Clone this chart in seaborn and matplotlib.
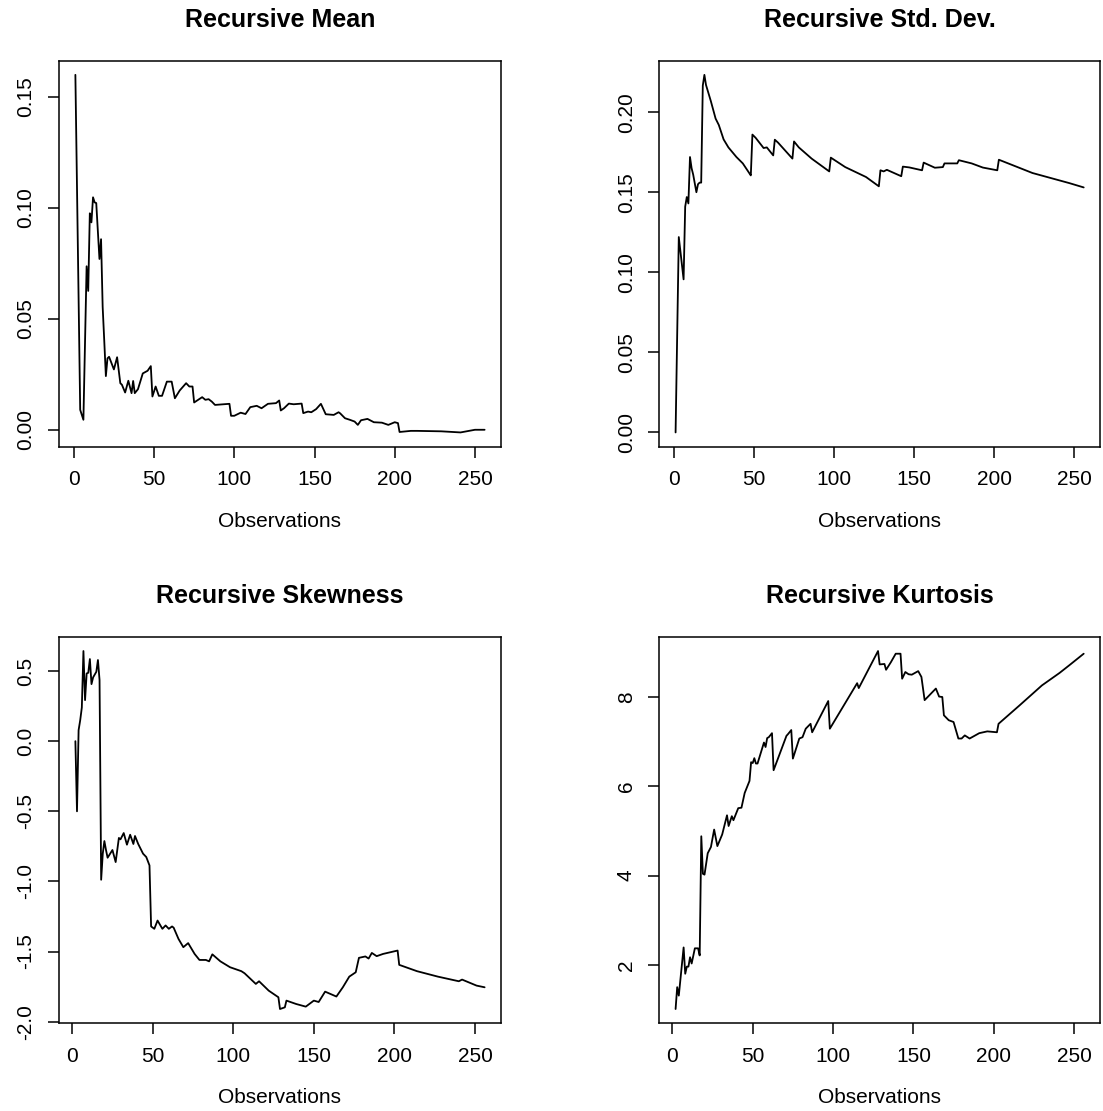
import matplotlib
matplotlib.use("Agg")
import matplotlib.pyplot as plt
import seaborn as sns
import pandas as pd
from matplotlib.ticker import FormatStrFormatter

sns.set_style("ticks")
plt.rcParams['font.family'] = ['Liberation Sans', 'DejaVu Sans']
plt.rcParams['axes.unicode_minus'] = False

# ---------------- data ----------------
mean_obs = [1, 4, 6, 8, 9, 10, 11, 12, 13, 14, 16, 17, 18, 19, 20, 21, 22, 25, 27, 29,
            30, 32, 34, 36, 37, 38, 40, 43, 46, 48, 49, 51, 53, 55, 58, 61, 63, 66, 70,
            72, 74, 75, 80, 82, 84, 86, 88, 97, 98, 100, 104, 107, 110, 114, 117, 121,
            126, 128, 129, 131, 134, 137, 142, 143, 146, 148, 151, 154, 157, 162, 165,
            166, 169, 172, 175, 177, 179, 183, 187, 192, 196, 200, 202, 203, 210, 214,
            229, 241, 250, 256]
mean_val = [0.160, 0.009, 0.0045, 0.0737, 0.0626, 0.0976, 0.0935, 0.1048, 0.1025, 0.1022,
            0.077, 0.0859, 0.0554, 0.040, 0.0242, 0.0322, 0.0329, 0.0272, 0.0327, 0.021,
            0.0203, 0.0168, 0.0221, 0.0165, 0.022, 0.0165, 0.0183, 0.0254, 0.0266, 0.0287,
            0.015, 0.0195, 0.0153, 0.0153, 0.0217, 0.0217, 0.0142, 0.0177, 0.021, 0.0195,
            0.0195, 0.0123, 0.0147, 0.0135, 0.0138, 0.0127, 0.0112, 0.0117, 0.0063, 0.0063,
            0.0077, 0.0071, 0.0102, 0.0108, 0.0097, 0.0117, 0.0120, 0.0132, 0.0087, 0.0097,
            0.0118, 0.0115, 0.0118, 0.0075, 0.0082, 0.0079, 0.0093, 0.0117, 0.0070, 0.0067,
            0.0079, 0.0074, 0.0052, 0.0045, 0.0037, 0.0022, 0.0043, 0.0049, 0.0034, 0.0032,
            0.0022, 0.0034, 0.0030, -0.0010, -0.0005, -0.0005, -0.0007, -0.0012, 0.0, 0.0]

std_obs = [1, 3, 6, 7, 8, 9, 10, 11, 12, 14, 15, 16, 17, 18, 19, 20, 23, 26, 28, 31, 34,
           39, 43, 47, 48, 49, 51, 56, 58, 62, 63, 65, 74, 75, 78, 86, 97, 98, 107, 120,
           128, 129, 131, 133, 142, 143, 147, 155, 156, 163, 168, 169, 174, 177, 178, 186,
           193, 202, 203, 224, 247, 256]
std_val = [0.0, 0.122, 0.0956, 0.141, 0.147, 0.143, 0.172, 0.165, 0.161, 0.150, 0.155,
           0.156, 0.156, 0.2166, 0.2233, 0.217, 0.207, 0.196, 0.192, 0.183, 0.178, 0.172,
           0.168, 0.162, 0.1605, 0.186, 0.184, 0.1776, 0.178, 0.173, 0.1828, 0.181, 0.171,
           0.1817, 0.178, 0.171, 0.163, 0.1716, 0.1657, 0.1595, 0.1537, 0.1637, 0.163,
           0.164, 0.160, 0.166, 0.1655, 0.1637, 0.1685, 0.1653, 0.1657, 0.168, 0.168,
           0.168, 0.170, 0.168, 0.1654, 0.1637, 0.1703, 0.162, 0.1557, 0.153]

skew_obs = [2, 3, 4, 5, 6, 7, 8, 9, 10, 11, 12, 13, 15, 16, 17, 18, 19, 20, 21, 22, 25, 27,
            29, 30, 32, 34, 36, 38, 39, 41, 44, 46, 48, 49, 51, 53, 56, 58, 60, 62, 63, 66,
            69, 72, 76, 79, 83, 85, 87, 92, 98, 105, 107, 114, 116, 122, 128, 129, 132,
            133, 139, 145, 150, 153, 157, 164, 168, 172, 176, 178, 182, 184, 186, 189,
            193, 202, 203, 214, 227, 240, 242, 251, 256]
skew_val = [0.0, -0.5, 0.079, 0.15, 0.24, 0.643, 0.293, 0.483, 0.488, 0.586, 0.407, 0.455,
            0.495, 0.579, 0.436, -0.988, -0.802, -0.712, -0.776, -0.831, -0.776, -0.862,
            -0.69, -0.70, -0.655, -0.738, -0.667, -0.733, -0.676, -0.733, -0.802, -0.826,
            -0.886, -1.321, -1.338, -1.279, -1.338, -1.314, -1.338, -1.321, -1.33, -1.41,
            -1.469, -1.44, -1.517, -1.56, -1.56, -1.57, -1.52, -1.57, -1.612, -1.64,
            -1.655, -1.731, -1.712, -1.779, -1.826, -1.91, -1.898, -1.85, -1.874, -1.893,
            -1.85, -1.86, -1.786, -1.821, -1.755, -1.679, -1.648, -1.545, -1.535, -1.55,
            -1.51, -1.533, -1.517, -1.493, -1.595, -1.64, -1.679, -1.712, -1.70, -1.743,
            -1.755]

kurt_obs = [2, 3, 4, 7, 8, 9, 10, 11, 12, 14, 16, 17, 18, 19, 20, 22, 24, 26, 28, 31, 34,
            35, 37, 38, 41, 43, 45, 48, 49, 50, 51, 52, 53, 57, 58, 59, 60, 62, 63, 71, 72,
            74, 75, 79, 81, 83, 86, 87, 97, 98, 108, 115, 116, 128, 129, 132, 133, 136,
            139, 142, 143, 145, 147, 149, 153, 155, 157, 164, 166, 168, 169, 172, 175,
            178, 180, 182, 185, 191, 196, 202, 203, 216, 230, 241, 247, 256]
kurt_val = [1.01, 1.50, 1.31, 2.39, 1.80, 1.96, 1.96, 2.17, 2.03, 2.37, 2.37, 2.21, 4.88,
            4.04, 4.02, 4.50, 4.64, 5.03, 4.66, 4.92, 5.35, 5.11, 5.33, 5.24, 5.51, 5.52,
            5.85, 6.12, 6.54, 6.52, 6.63, 6.51, 6.51, 6.98, 6.88, 7.08, 7.10, 7.19, 6.36,
            7.13, 7.17, 7.26, 6.62, 7.07, 7.10, 7.29, 7.40, 7.21, 7.91, 7.29, 7.89, 8.31,
            8.20, 9.03, 8.73, 8.74, 8.61, 8.78, 8.97, 8.97, 8.41, 8.56, 8.51, 8.50, 8.58,
            8.45, 7.93, 8.19, 8.01, 8.00, 7.59, 7.48, 7.44, 7.07, 7.07, 7.14, 7.07, 7.19,
            7.23, 7.21, 7.40, 7.81, 8.26, 8.54, 8.71, 8.97]

titles = ["Recursive Mean", "Recursive Std. Dev.", "Recursive Skewness", "Recursive Kurtosis"]
xlabel = "Observations"
x_ticks = [0, 50, 100, 150, 200, 250]
mean_ticks = [0.00, 0.05, 0.10, 0.15]
std_ticks = [0.00, 0.05, 0.10, 0.15, 0.20]
skew_ticks = [-2.0, -1.5, -1.0, -0.5, 0.0, 0.5]
kurt_ticks = [2, 4, 6, 8]

# ---------------- figure ----------------
fig = plt.figure(figsize=(11.03, 11.11), dpi=100)
positions = [
    [0.0535, 0.5979, 0.4007, 0.3476],
    [0.5977, 0.5979, 0.3996, 0.3476],
    [0.0535, 0.0789, 0.4007, 0.3480],
    [0.5977, 0.0789, 0.3996, 0.3480],
]
series = [(mean_obs, mean_val, mean_ticks, '%.2f'),
          (std_obs, std_val, std_ticks, '%.2f'),
          (skew_obs, skew_val, skew_ticks, '%.1f'),
          (kurt_obs, kurt_val, kurt_ticks, '%d')]

for pos, (xs, ys, yt, fmt), title in zip(positions, series, titles):
    ax = fig.add_axes(pos)
    df = pd.DataFrame({"obs": xs, "val": ys})
    sns.lineplot(data=df, x="obs", y="val", ax=ax, color="black", linewidth=1.3,
                 estimator=None, sort=False)
    ax.margins(x=0.04, y=0.04)
    ax.set_xticks(x_ticks)
    ax.set_yticks(yt)
    ax.yaxis.set_major_formatter(FormatStrFormatter(fmt))
    ax.set_xlabel(xlabel, fontsize=15, labelpad=16, color="black")
    ax.set_ylabel("")
    ax.set_title(title, fontsize=18, fontweight="bold", pad=24, color="black")
    for s in ax.spines.values():
        s.set_visible(True)
        s.set_color("black")
        s.set_linewidth(1.1)
    ax.tick_params(axis='both', direction='out', length=8, width=1.1, color='black',
                   labelsize=15, labelcolor='black')
    ax.tick_params(axis='x', pad=9)
    ax.tick_params(axis='y', pad=9)
    for lab in ax.get_yticklabels():
        lab.set_rotation(90)
        lab.set_va('center')
        lab.set_ha('right')
    ax.grid(False)

fig.savefig("out.png", dpi=100, facecolor="white")
